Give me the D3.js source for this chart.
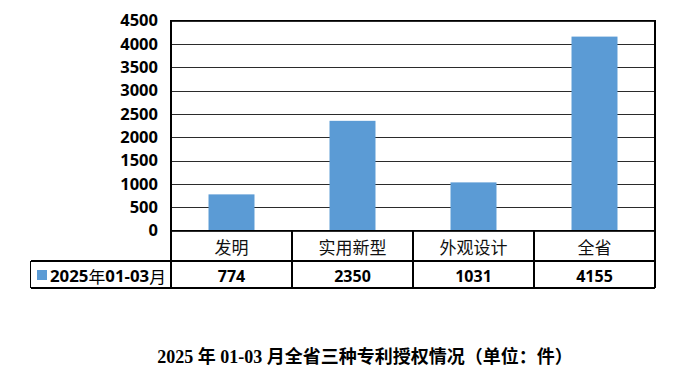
<!DOCTYPE html>
<html><head><meta charset="utf-8">
<script src="https://cdn.jsdelivr.net/npm/d3@7"></script>
<style>
html,body{margin:0;padding:0;background:#fff;}
svg{display:block;}
</style></head>
<body>
<svg id="chart" width="687" height="376"></svg>
<script>
const categories = ["发明", "实用新型", "外观设计", "全省"];
const values = [774, 2350, 1031, 4155];
const seriesName = "2025年01-03月";
const yTicks = [0, 500, 1000, 1500, 2000, 2500, 3000, 3500, 4000, 4500];
const title = "2025 年 01-03 月全省三种专利授权情况（单位：件）";

const svg = d3.select("#chart");
const L = 171, R = 655, T = 20.5, B = 230.5;
const rowH1 = 30.5, rowH2 = 27;
const legendLeft = 30.5;
const barColor = "#5B9BD5";
const numFont = "'Open Sans', 'Liberation Sans', Arial, sans-serif";
const cjkFont = "'Noto Sans CJK SC', sans-serif";

const x = d3.scaleBand().domain(categories).range([L, R]).padding(0);
const y = d3.scaleLinear().domain([0, 4500]).range([B, T]);

// gridlines
const grid = svg.append("g").attr("transform", `translate(${L},0)`)
  .call(d3.axisLeft(y).tickValues(yTicks).tickSize(-(R - L)).tickFormat(""));
grid.select(".domain").remove();
grid.selectAll("line").attr("stroke", "#2b2b2b").attr("stroke-width", 1).attr("shape-rendering", "crispEdges");

// bars
svg.append("g").selectAll("rect").data(values).join("rect")
  .attr("x", (d, i) => x(categories[i]) + x.bandwidth() * 0.31)
  .attr("width", x.bandwidth() * 0.38)
  .attr("y", d => y(d))
  .attr("height", d => y(0) - y(d))
  .attr("fill", barColor);

// plot border
svg.append("rect").attr("x", L).attr("y", T).attr("width", R - L).attr("height", B - T)
  .attr("fill", "none").attr("stroke", "#000").attr("stroke-width", 1.2).attr("shape-rendering", "crispEdges");

// y axis labels
const yax = svg.append("g").attr("transform", `translate(${L},0)`)
  .call(d3.axisLeft(y).tickValues(yTicks).tickSize(0).tickPadding(13).tickFormat(d3.format("d")));
yax.select(".domain").remove();
yax.selectAll("text").attr("font-family", numFont).attr("font-weight", "bold")
  .attr("font-size", 16.5).attr("fill", "#000");

// table
const tbl = svg.append("g").attr("stroke", "#000").attr("stroke-width", 1.2).attr("shape-rendering", "crispEdges");
tbl.append("line").attr("x1", L).attr("x2", R).attr("y1", B).attr("y2", B);
tbl.append("line").attr("x1", legendLeft).attr("x2", R).attr("y1", B + rowH1).attr("y2", B + rowH1);
tbl.append("line").attr("x1", legendLeft).attr("x2", R).attr("y1", B + rowH1 + rowH2).attr("y2", B + rowH1 + rowH2);
tbl.append("line").attr("x1", legendLeft).attr("x2", legendLeft).attr("y1", B + rowH1).attr("y2", B + rowH1 + rowH2);
const vlines = [L].concat(categories.map(c => x(c) + x.bandwidth()));
tbl.selectAll("line.v").data(vlines).join("line").attr("class", "v")
  .attr("x1", d => d).attr("x2", d => d).attr("y1", B).attr("y2", B + rowH1 + rowH2);

// category labels
svg.append("g").selectAll("text").data(categories).join("text")
  .attr("x", d => x(d) + x.bandwidth() / 2)
  .attr("y", B + rowH1 / 2 + 1)
  .attr("text-anchor", "middle").attr("dominant-baseline", "central")
  .attr("font-family", cjkFont).attr("font-size", 17).attr("fill", "#111")
  .text(d => d);

// values row
svg.append("g").selectAll("text").data(values).join("text")
  .attr("x", (d, i) => x(categories[i]) + x.bandwidth() / 2)
  .attr("y", B + rowH1 + rowH2 / 2 + 1)
  .attr("text-anchor", "middle").attr("dominant-baseline", "central")
  .attr("font-family", numFont).attr("font-weight", "bold").attr("font-size", 16).attr("fill", "#000")
  .text(d => d);

// legend cell
svg.append("rect").attr("x", 37).attr("y", B + rowH1 + 9).attr("width", 10).attr("height", 10).attr("fill", barColor);
const lt = svg.append("text").attr("x", 50).attr("y", B + rowH1 + rowH2 / 2 + 1)
  .attr("dominant-baseline", "central")
  .attr("font-family", numFont).attr("font-size", 16).attr("fill", "#000")
  .attr("textLength", 116).attr("lengthAdjust", "spacingAndGlyphs");
seriesName.split(/([年月])/).filter(s => s.length).forEach(s => {
  const isCjk = /[年月]/.test(s);
  lt.append("tspan").text(s)
    .attr("font-weight", isCjk ? "normal" : "bold")
    .attr("font-family", isCjk ? cjkFont : numFont);
});

// title
svg.append("text").attr("x", 365).attr("y", 357)
  .attr("text-anchor", "middle").attr("dominant-baseline", "central")
  .attr("font-family", "'Liberation Serif', 'Noto Sans CJK SC', serif")
  .attr("font-weight", "bold").attr("font-size", 18).attr("fill", "#000")
  .text(title);
</script>
</body></html>
